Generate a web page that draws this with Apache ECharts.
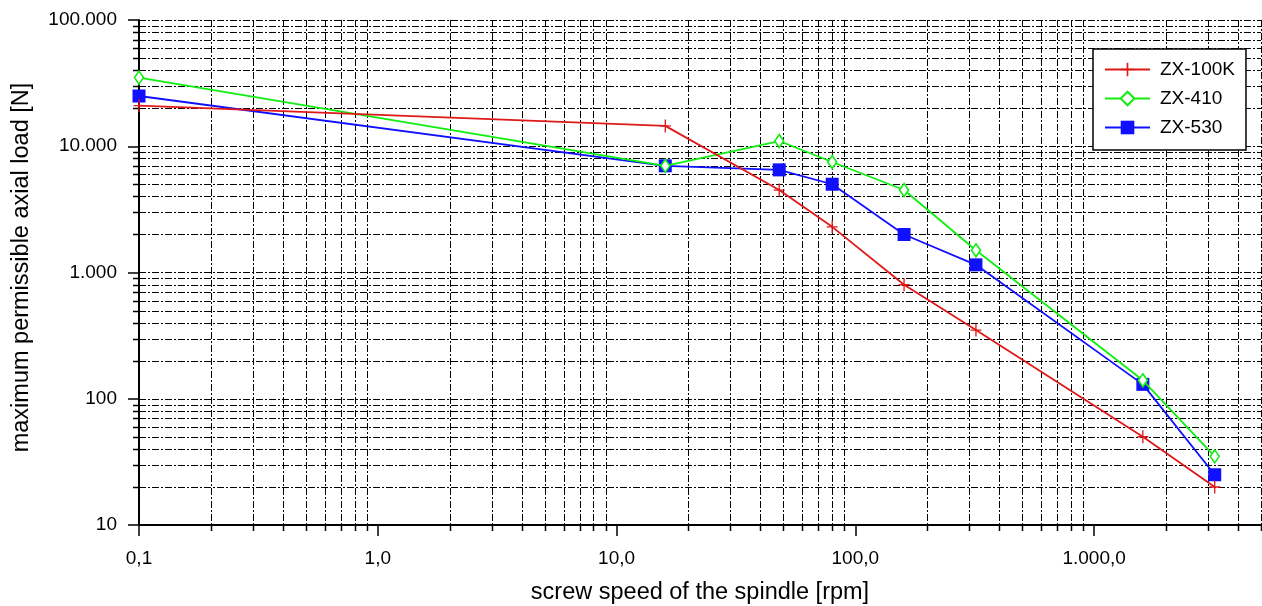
<!DOCTYPE html>
<html>
<head>
<meta charset="utf-8">
<script src="https://cdn.jsdelivr.net/npm/echarts@6/dist/echarts.min.js"></script>
<style>
html,body{margin:0;padding:0;background:#fff;}
#chart{width:1262px;height:606px;}
</style>
</head>
<body>
<div id="chart"></div>
<script>
// ---- data ----
const speeds = [0.1, 16, 48, 80, 160, 320, 1600, 3200];
const zx100k = [21000, 14500, 4500, 2300, 800, 350, 50, 20];
const zx410  = [35000, 7000, 11000, 7500, 4500, 1500, 140, 35];
const zx530  = [25000, 7000, 6500, 5000, 2000, 1150, 130, 25];
const seriesNames = ['ZX-100K', 'ZX-410', 'ZX-530'];
const xMin = 0.1, xMax = 5000, yMin = 10, yMax = 100000;

// minor grid positions (2..9 in each decade)
const xMinor = [];
for (let d = 0.1; d < xMax; d *= 10) {
  for (let k = 2; k <= 9; k++) { const v = +(d * k).toPrecision(3); if (v <= xMax) xMinor.push(v); }
}
const yMinor = [];
for (let d = 10; d < yMax; d *= 10) {
  for (let k = 2; k <= 9; k++) yMinor.push(d * k);
}

const FONT = 'Liberation Sans, Arial, sans-serif';
const DASH = [7, 2, 2, 2];
function groupThousands(s) { return s.replace(/\B(?=(\d{3})+(?!\d))/g, '.'); }
function fmtX(v) { const p = (+v).toFixed(1).split('.'); return groupThousands(p[0]) + ',' + p[1]; }
function fmtY(v) { return groupThousands(String(Math.round(v))); }
function pairs(ys) { return speeds.map((x, i) => [x, ys[i]]); }

const chart = echarts.init(document.getElementById('chart'), null, {renderer: 'canvas'});
chart.setOption({
  animation: false,
  backgroundColor: '#fff',
  textStyle: {fontFamily: FONT, color: '#000'},
  grid: {left: 139, right: 1, top: 20, bottom: 81, containLabel: false, outerBoundsMode: 'none'},
  legend: {
    data: seriesNames,
    orient: 'vertical',
    left: 1093, top: 49,
    padding: [11, 11, 13, 11],
    itemGap: 10,
    itemWidth: 45, itemHeight: 17,
    backgroundColor: '#fff',
    borderColor: '#000', borderWidth: 1.5,
    textStyle: {fontFamily: FONT, fontSize: 19, color: '#000', padding: [0, 0, 0, 5]}
  },
  xAxis: {
    type: 'log', logBase: 10, min: xMin, max: xMax,
    name: 'screw speed of the spindle [rpm]',
    nameLocation: 'middle', nameGap: 56,
    nameTextStyle: {fontFamily: FONT, fontSize: 23.5, color: '#000'},
    axisLine: {show: true, onZero: false, lineStyle: {color: '#000', width: 2}},
    axisTick: {show: true, length: 11, lineStyle: {color: '#000', width: 1.5}},
    axisLabel: {fontFamily: FONT, fontSize: 19, color: '#000', margin: 24, formatter: fmtX, showMaxLabel: false},
    splitLine: {show: false}
  },
  yAxis: {
    type: 'log', logBase: 10, min: yMin, max: yMax,
    name: 'maximum permissible axial load [N]',
    nameLocation: 'middle', nameGap: 105,
    nameTextStyle: {fontFamily: FONT, fontSize: 23.5, color: '#000', padding: [0, 0, 0, 10]},
    axisLine: {show: true, onZero: false, lineStyle: {color: '#000', width: 2}},
    axisTick: {show: true, length: 11, lineStyle: {color: '#000', width: 1.5}},
    axisLabel: {fontFamily: FONT, fontSize: 19, color: '#000', margin: 22, formatter: fmtY},
    splitLine: {show: true, lineStyle: {color: '#000', width: 1, type: DASH}}
  },
  series: [
    {
      type: 'custom', silent: true, z: 1, clip: false,
      data: xMinor.map(v => [v, yMin]),
      encode: {x: 0, y: 1},
      renderItem: function (params, api) {
        const cs = params.coordSys;
        const x = Math.round(api.coord([api.value(0), yMin])[0]) + 0.5;
        const b = cs.y + cs.height;
        return {type: 'group', children: [
          {type: 'line', shape: {x1: x, y1: cs.y, x2: x, y2: b}, style: {stroke: '#000', lineWidth: 1, lineDash: DASH}},
          {type: 'line', shape: {x1: x, y1: b, x2: x, y2: b + 6}, style: {stroke: '#000', lineWidth: 1.5}}
        ]};
      }
    },
    {
      type: 'custom', silent: true, z: 1, clip: false,
      data: yMinor.map(v => [xMin, v]),
      encode: {x: 0, y: 1},
      renderItem: function (params, api) {
        const cs = params.coordSys;
        const y = Math.round(api.coord([xMin, api.value(1)])[1]) + 0.5;
        return {type: 'group', children: [
          {type: 'line', shape: {x1: cs.x, y1: y, x2: cs.x + cs.width, y2: y}, style: {stroke: '#000', lineWidth: 1, lineDash: DASH}},
          {type: 'line', shape: {x1: cs.x - 6, y1: y, x2: cs.x, y2: y}, style: {stroke: '#000', lineWidth: 1.5}}
        ]};
      }
    },
    {
      name: 'ZX-530', type: 'line', z: 3, data: pairs(zx530),
      symbol: 'rect', symbolSize: 13,
      lineStyle: {color: '#1010ff', width: 1.8},
      itemStyle: {color: '#1010ff'}
    },
    {
      name: 'ZX-410', type: 'line', z: 4, data: pairs(zx410),
      symbol: 'diamond', symbolSize: [9, 13],
      lineStyle: {color: '#10ee10', width: 1.8},
      itemStyle: {color: '#fff', borderColor: '#10ee10', borderWidth: 1.6}
    },
    {
      name: 'ZX-100K', type: 'line', z: 5, data: pairs(zx100k),
      symbol: 'path://M0,5.4H10V6.6H0Z M4.4,0H5.6V12H4.4Z', symbolSize: [11, 13],
      symbolKeepAspect: false,
      lineStyle: {color: '#e01818', width: 1.8},
      itemStyle: {color: '#e01818'}
    }
  ]
});
</script>
</body>
</html>
